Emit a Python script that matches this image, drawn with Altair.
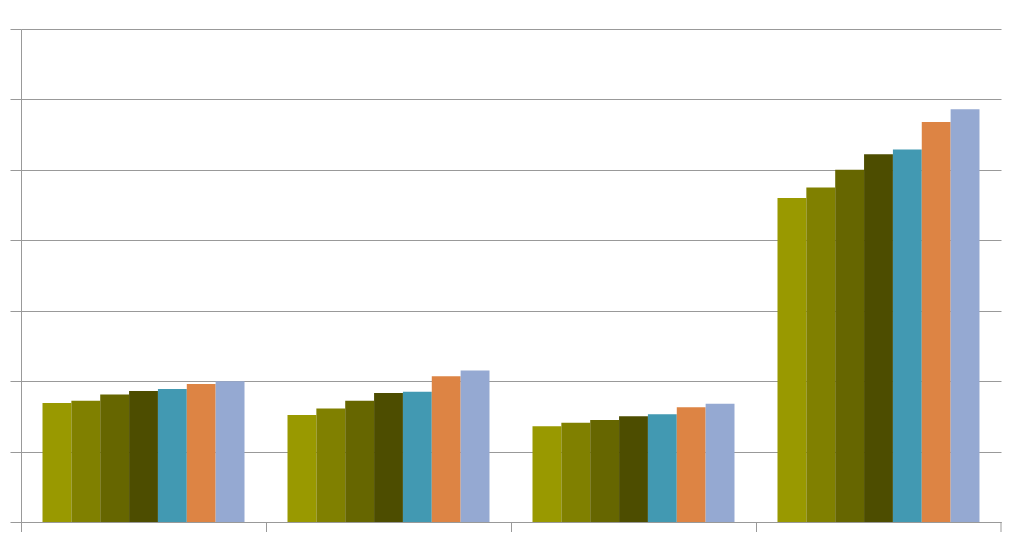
import altair as alt
import pandas as pd

categories = ["A", "B", "C", "D"]
series = ["S1", "S2", "S3", "S4", "S5", "S6", "S7"]
values = {
    "A": [1.69, 1.72, 1.81, 1.86, 1.89, 1.96, 2.00],
    "B": [1.52, 1.61, 1.72, 1.83, 1.85, 2.07, 2.15],
    "C": [1.36, 1.41, 1.45, 1.50, 1.53, 1.63, 1.68],
    "D": [4.60, 4.75, 5.00, 5.22, 5.29, 5.68, 5.86],
}
colors = ["#999900", "#808000", "#666600", "#4d4d00", "#4299b2", "#dd8444", "#95a9d2"]
y_ticks = [0, 1, 2, 3, 4, 5, 6, 7]

rows = []
for c in categories:
    for s, v in zip(series, values[c]):
        rows.append({"cat": c, "series": s, "value": v})
df = pd.DataFrame(rows)

axis_color = "#999999"

bars = alt.Chart(df).mark_bar().encode(
    x=alt.X(
        "cat:N",
        sort=categories,
        scale=alt.Scale(paddingInner=0.1755, paddingOuter=0.0878),
        axis=alt.Axis(labels=False, title=None, bandPosition=0, tickOffset=-21.5,
                      tickSize=10, tickColor=axis_color, domainColor=axis_color,
                      grid=False),
    ),
    xOffset=alt.XOffset("series:N", sort=series,
                        scale=alt.Scale(paddingInner=0, paddingOuter=0)),
    y=alt.Y(
        "value:Q",
        scale=alt.Scale(domain=[0, 7], nice=False),
        axis=alt.Axis(labels=False, title=None, values=y_ticks, tickSize=11,
                      tickColor=axis_color, domainColor=axis_color,
                      grid=True, gridColor=axis_color, gridWidth=1.2),
    ),
    color=alt.Color("series:N", sort=series,
                    scale=alt.Scale(domain=series, range=colors), legend=None),
)

end_tick = alt.Chart(pd.DataFrame({"a": [0]})).mark_rule(
    color=axis_color, strokeWidth=1
).encode(x=alt.value(980), y=alt.value(493), y2=alt.value(503))

chart = alt.layer(bars, end_tick).properties(
    width=980, height=493,
    autosize=alt.AutoSizeParams(type="none"),
    padding={"left": 13, "top": 21, "right": 10, "bottom": 10},
).configure_view(stroke=None)

chart.save("out.html", embed_options={"renderer": "svg", "actions": False})
